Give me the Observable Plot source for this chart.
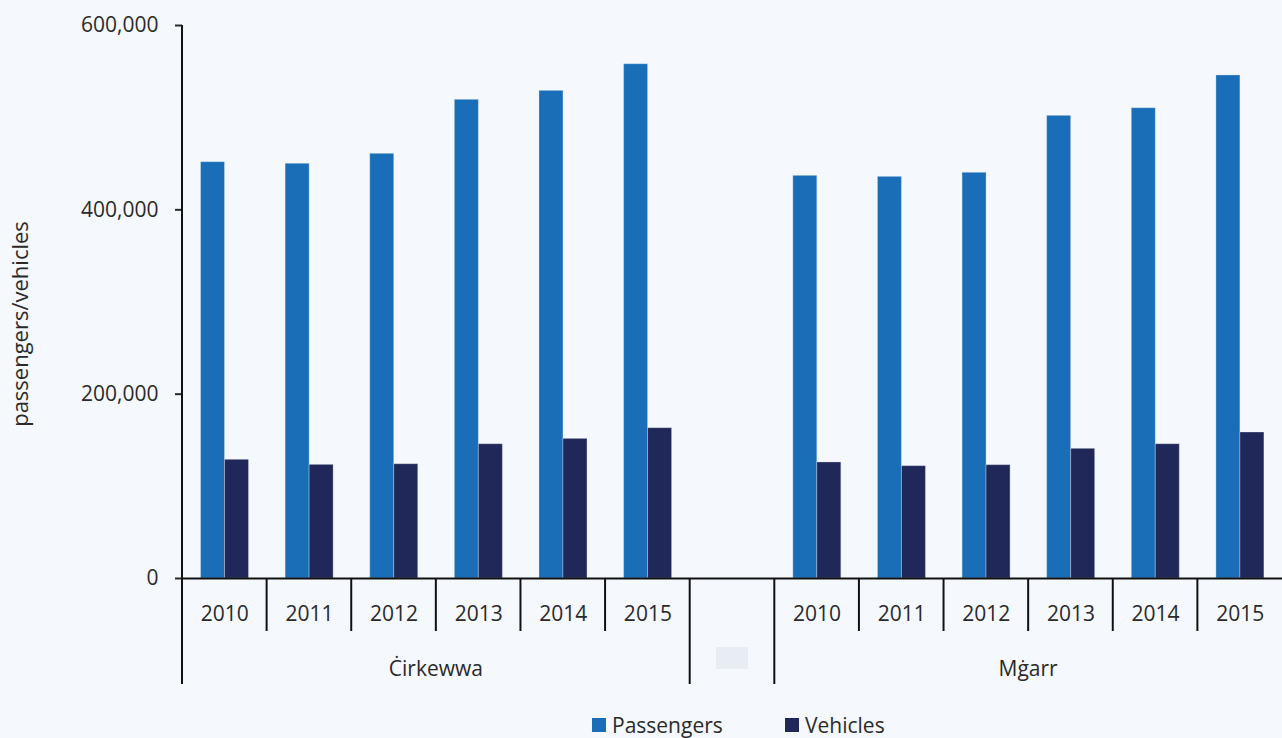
<!DOCTYPE html>
<html><head><meta charset="utf-8">
<script src="https://cdn.jsdelivr.net/npm/d3@7"></script>
<script src="https://cdn.jsdelivr.net/npm/@observablehq/plot@0.6"></script>
<style>
html,body{margin:0;padding:0;background:#f5f8fc;}
#chart{position:relative;width:1282px;height:738px;overflow:hidden;font-family:"Open Sans",sans-serif;}
#legend{position:absolute;left:0;top:705px;}
</style></head><body><div id="chart"></div>
<script>
const ports = ["Ċirkewwa", "Mġarr"];
const years = ["2010", "2011", "2012", "2013", "2014", "2015"];
const seriesNames = ["Passengers", "Vehicles"];
const seriesColors = ["#1a6eb8", "#1f2859"];
const passengersCirkewwa = [451700, 450000, 460800, 519400, 529100, 558000];
const vehiclesCirkewwa = [128800, 123300, 124000, 145700, 151500, 163100];
const passengersMgarr = [436900, 435800, 440200, 502000, 510300, 545800];
const vehiclesMgarr = [125900, 121900, 123000, 140700, 145700, 158400];
const yTicks = [0, 200000, 400000, 600000];
const yLabel = "passengers/vehicles";
const gapKey = "gap";

const byPort = {
  [ports[0]]: [passengersCirkewwa, vehiclesCirkewwa],
  [ports[1]]: [passengersMgarr, vehiclesMgarr]
};
const key = (p, y) => p + "|" + y;
const categories = [
  ...years.map(y => key(ports[0], y)),
  gapKey,
  ...years.map(y => key(ports[1], y))
];
const data = [];
for (const p of ports) {
  seriesNames.forEach((s, si) => {
    years.forEach((y, yi) => {
      data.push({cat: key(p, y), port: p, year: y, series: s, value: byPort[p][si][yi]});
    });
  });
}

const textColor = "#2a2a2a";
const axisColor = "#111";

function categoryAxis(index, scales, values, dimensions) {
  const x = scales.x, y = scales.y;
  const bw = x.bandwidth();
  const dom = x.domain();
  const y0 = y(0);
  const g = d3.create("svg:g");
  // vertical axis line
  g.append("line")
    .attr("x1", dimensions.marginLeft).attr("x2", dimensions.marginLeft)
    .attr("y1", y(yTicks[yTicks.length - 1])).attr("y2", y0)
    .attr("stroke", axisColor).attr("stroke-width", 2);
  // category boundaries
  dom.forEach((d, i) => {
    const px = x(d);
    const long = i === 0 || d === gapKey || dom[i - 1] === gapKey;
    g.append("line")
      .attr("x1", px).attr("x2", px)
      .attr("y1", y0).attr("y2", y0 + (long ? 106 : 53))
      .attr("stroke", axisColor).attr("stroke-width", 2);
  });
  // empty-category placeholder
  const gx = x(gapKey) + bw / 2;
  g.append("rect")
    .attr("x", gx - 16).attr("y", y0 + 69)
    .attr("width", 32).attr("height", 22)
    .attr("fill", "#e8edf4");
  // port labels
  for (const p of ports) {
    const a = x(key(p, years[0]));
    const b = x(key(p, years[years.length - 1])) + bw;
    g.append("text")
      .attr("x", (a + b) / 2).attr("y", y0 + 98)
      .attr("text-anchor", "middle")
      .attr("font-size", 21)
      .attr("fill", textColor)
      .text(p);
  }
  return g.node();
}

const chart = Plot.plot({
  width: 1282,
  height: 705,
  marginLeft: 182,
  marginRight: 0,
  marginTop: 25,
  marginBottom: 127,
  style: {fontFamily: "Open Sans, sans-serif", background: "transparent", overflow: "visible"},
  x: {type: "band", domain: categories, paddingInner: 0, paddingOuter: 0, round: false, axis: null},
  y: {domain: [0, 600000], axis: null},
  color: {domain: seriesNames, range: seriesColors},
  marks: [
    Plot.barY(data.filter(d => d.series === seriesNames[0]), {
      x: "cat", y: "value", fill: "series",
      insetLeft: 18.5, insetRight: 42.1,
      stroke: "#ffffff", strokeOpacity: 0.3, strokeWidth: 1
    }),
    Plot.barY(data.filter(d => d.series === seriesNames[1]), {
      x: "cat", y: "value", fill: "series",
      insetLeft: 42.5, insetRight: 18.1,
      stroke: "#ffffff", strokeOpacity: 0.3, strokeWidth: 1
    }),
    Plot.axisY({
      ticks: yTicks, tickSize: 7, tickPadding: 17,
      tickFormat: d3.format(","), fontSize: 21,
      strokeWidth: 2, color: textColor, label: null
    }),
    Plot.axisX({
      tickSize: 0, tickPadding: 28, fontSize: 21,
      tickFormat: d => d === gapKey ? "" : d.split("|")[1],
      color: textColor, label: null
    }),
    Plot.ruleY([0], {stroke: axisColor, strokeWidth: 2}),
    categoryAxis,
    Plot.text([yLabel], {
      frameAnchor: "left", rotate: -90, dx: -162, dy: 22,
      fontSize: 22, fill: textColor, textAnchor: "middle"
    })
  ]
});
const root = document.getElementById("chart");
root.appendChild(chart);

// legend below the chart
const legendX = [592, 785];
const legend = d3.create("svg")
  .attr("id", "legend")
  .attr("width", 1282).attr("height", 33)
  .style("font-family", "Open Sans, sans-serif");
seriesNames.forEach((s, i) => {
  legend.append("rect").attr("x", legendX[i]).attr("y", 13)
    .attr("width", 14).attr("height", 14).attr("fill", seriesColors[i]);
  legend.append("text").attr("x", legendX[i] + 20).attr("y", 28)
    .attr("font-size", 21).attr("fill", textColor).text(s);
});
root.appendChild(legend.node());
</script>
</body></html>
